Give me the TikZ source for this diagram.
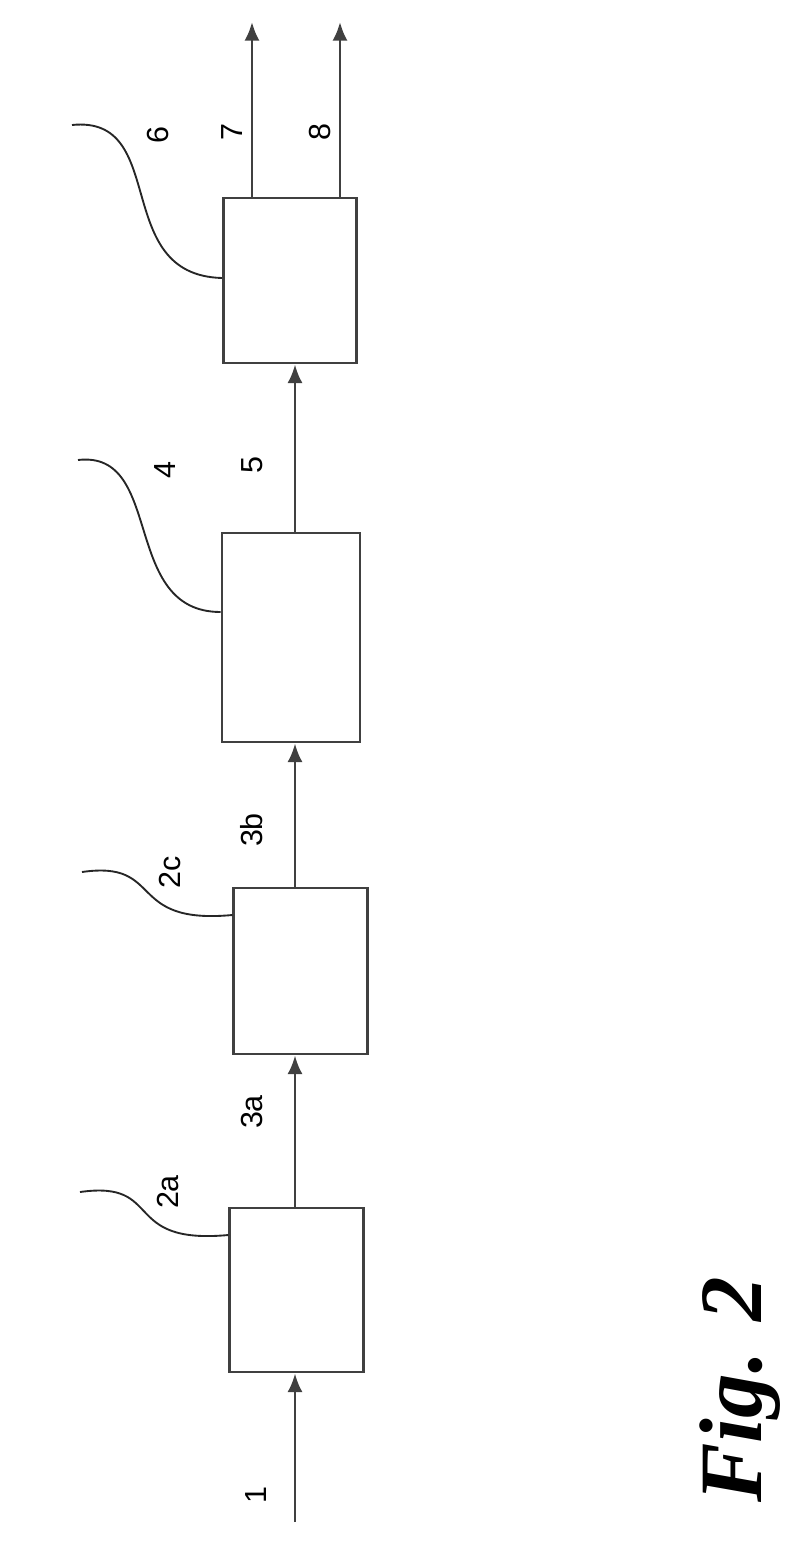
\documentclass[tikz,border=0pt]{standalone}
\usepackage{fontspec}
\setmainfont{Liberation Serif}
\setsansfont{Liberation Sans}
\usetikzlibrary{positioning}
\usetikzlibrary{arrows.meta}

\tikzset{
  unit/.style={draw=black!75, line width=2.4pt, minimum width=4cm, inner sep=0pt},
  flow/.style={draw=black!75, line width=2.4pt, -{Latex[length=16pt,width=13pt]}},
  leader/.style={draw=black!85, line width=1.6pt},
  tag/.style={font=\sffamily\fontsize{26}{26}\selectfont, rotate=90, inner sep=0pt}
}

\begin{document}
\begin{tikzpicture}[x=0.03cm, y=-0.03cm]
  \useasboundingbox (0,0) rectangle (800,1548);

    %----------------------------------------------------------
    % Units
    %----------------------------------------------------------
  \node[unit, minimum height=4.92cm] (u2a) at (296.5,1290) {};
  \node[unit, minimum height=4.98cm] (u2c) at (300.5,971) {};
  \node[unit, minimum width=4.14cm, minimum height=6.27cm] (u4) at (291,637.5) {};
  \node[unit, minimum height=4.95cm] (u6) at (290,280.5) {};

    %----------------------------------------------------------
    % Streams
    %----------------------------------------------------------
  \coordinate (mx) at (295,0);
  \coordinate (in) at (295,1522);
  \coordinate (out7) at (252,22);
  \coordinate (out8) at (340,22);
  \draw[flow] (in) -- (in |- u2a.south);
  \draw[flow] (mx |- u2a.north) -- (mx |- u2c.south);
  \draw[flow] (mx |- u2c.north) -- (mx |- u4.south);
  \draw[flow] (mx |- u4.north) -- (mx |- u6.south);
  \draw[flow] (out7 |- u6.north) -- (out7);
  \draw[flow] (out8 |- u6.north) -- (out8);

    %----------------------------------------------------------
    % Labels
    %----------------------------------------------------------
  \node[tag] (l1) at (256,1495) {1};
  \node[tag] (l3a) at (252,1112) {3a};
  \node[tag] (l3b) at (252,830) {3b};
  \node[tag] (l5) at (252,465) {5};
  \node[tag] (l7) at (232,132) {7};
  \node[tag] (l8) at (320,132) {8};
  \node[tag] (l2a) at (168,1192) {2a};
  \node[tag] (l2c) at (170,872) {2c};
  \node[tag] (l4) at (165,470) {4};
  \node[tag] (l6) at (158,135) {6};

  % leader lines
  \coordinate (s2a) at (80,1192);
  \coordinate (s2c) at (82,872);
  \coordinate (s4) at (78,460);
  \coordinate (s6) at (72,125);
  \draw[leader] (s2a) .. controls (165,1180) and (120,1245) .. (u2a.west |- 0,1235);
  \draw[leader] (s2c) .. controls (165,860) and (125,925) .. (u2c.west |- 0,915);
  \draw[leader] (s4) .. controls (165,450) and (120,612) .. (u4.west |- 0,612);
  \draw[leader] (s6) .. controls (170,115) and (110,275) .. (u6.west |- 0,278);

  \node[rotate=90, font=\bfseries\itshape\fontsize{76}{76}\selectfont, inner sep=0pt] (fig) at (740,1390) {Fig. 2};
\end{tikzpicture}
\end{document}
